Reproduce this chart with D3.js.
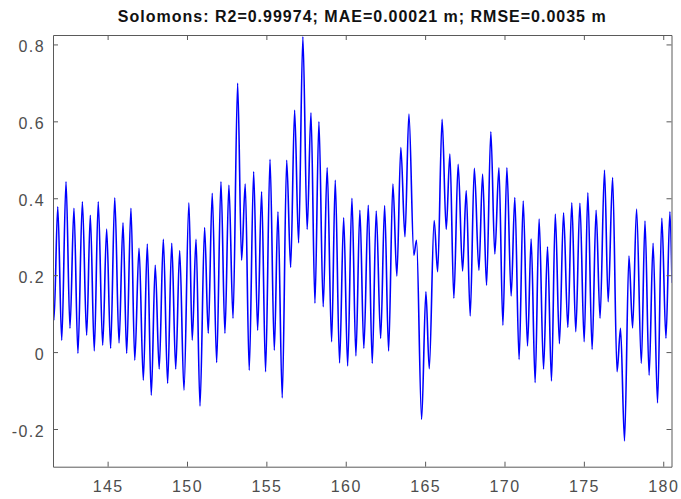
<!DOCTYPE html>
<html>
<head>
<meta charset="utf-8">
<script src="https://cdn.jsdelivr.net/npm/d3@7"></script>
<style>
  body { margin: 0; background: #fff; }
  .axis text { font-family: "Liberation Sans", Arial, sans-serif; font-size: 16px; letter-spacing: 1.4px; fill: #4d4d4d; }
  .axis path, .axis line { stroke: #5a5a5a; }
</style>
</head>
<body>
<div id="chart"></div>
<script>
// peaks and troughs (day of year, water level in m)
var days = [141.50, 141.62, 141.86, 142.11, 142.38, 142.63, 142.88, 143.13, 143.41, 143.68,
  143.91, 144.16, 144.41, 144.69, 144.94, 145.19, 145.45, 145.72, 145.97, 146.20,
  146.47, 146.71, 146.98, 147.25, 147.50, 147.75, 148.00, 148.25, 148.51, 148.78,
  149.04, 149.29, 149.54, 149.81, 150.12, 150.33, 150.57, 150.82, 151.11, 151.34,
  151.59, 151.87, 152.14, 152.39, 152.64, 152.90, 153.19, 153.44, 153.67, 153.92,
  154.20, 154.45, 154.70, 154.95, 155.23, 155.50, 155.73, 156.00, 156.28, 156.53,
  156.78, 157.03, 157.30, 157.57, 157.81, 158.06, 158.31, 158.58, 158.83, 159.11,
  159.34, 159.61, 159.87, 160.12, 160.39, 160.64, 160.89, 161.14, 161.42, 161.67,
  161.92, 162.20, 162.45, 162.70, 162.97, 163.22, 163.47, 163.73, 163.98, 164.29,
  164.46, 164.78, 165.05, 165.26, 165.57, 165.79, 166.07, 166.33, 166.56, 166.81,
  167.08, 167.36, 167.59, 167.84, 168.10, 168.39, 168.62, 168.87, 169.14, 169.39,
  169.65, 169.90, 170.15, 170.42, 170.65, 170.92, 171.18, 171.45, 171.68, 171.93,
  172.18, 172.46, 172.71, 172.96, 173.20, 173.46, 173.72, 173.99, 174.24, 174.49,
  174.75, 175.02, 175.25, 175.52, 175.77, 176.02, 176.30, 176.53, 176.81, 177.09,
  177.31, 177.56, 177.84, 178.07, 178.32, 178.62, 178.85, 179.11, 179.36, 179.64,
  179.91, 180.17, 180.42, 180.55];

var level = [0.26, 0.083, 0.378, 0.031, 0.443, 0.062, 0.374, -0.003, 0.391, 0.044,
  0.356, 0.003, 0.391, 0.018, 0.320, 0.010, 0.401, 0.024, 0.336, -0.003,
  0.374, -0.021, 0.270, -0.073, 0.281, -0.112, 0.226, -0.044, 0.293, -0.081,
  0.283, -0.044, 0.264, -0.099, 0.388, 0.031, 0.293, -0.140, 0.324, 0.049,
  0.413, -0.027, 0.443, 0.049, 0.434, 0.088, 0.699, 0.239, 0.437, -0.047,
  0.469, 0.057, 0.417, -0.051, 0.501, 0.005, 0.365, -0.119, 0.499, 0.220,
  0.629, 0.284, 0.820, 0.319, 0.622, 0.127, 0.599, 0.118, 0.479, 0.027,
  0.447, -0.028, 0.349, -0.036, 0.400, -0.010, 0.369, 0.010, 0.382, -0.029,
  0.367, 0.036, 0.381, 0.003, 0.437, 0.198, 0.532, 0.300, 0.619, 0.252,
  0.291, -0.175, 0.157, -0.043, 0.342, 0.209, 0.605, 0.319, 0.515, 0.140,
  0.488, 0.211, 0.420, 0.094, 0.478, 0.213, 0.463, 0.174, 0.573, 0.255,
  0.479, 0.070, 0.479, 0.146, 0.402, -0.019, 0.393, 0.016, 0.294, -0.079,
  0.346, -0.044, 0.274, -0.075, 0.359, 0.022, 0.362, 0.064, 0.388, 0.053,
  0.387, 0.027, 0.414, 0.007, 0.369, 0.088, 0.473, 0.131, 0.454, -0.051,
  0.062, -0.231, 0.250, 0.063, 0.372, -0.029, 0.341, -0.060, 0.283, -0.132,
  0.348, 0.036, 0.365, 0.18];

var xTicks = [145, 150, 155, 160, 165, 170, 175, 180];
var yTicks = [-0.2, 0, 0.2, 0.4, 0.6, 0.8];
var title = "Solomons: R2=0.99974; MAE=0.00021 m; RMSE=0.0035 m";

var width = 681, height = 499;
var margin = {top: 35, right: 9.5, bottom: 32.3, left: 53};
var w = width - margin.left - margin.right;
var h = height - margin.top - margin.bottom;

var svg = d3.select("#chart").append("svg")
    .attr("width", width)
    .attr("height", height);

var g = svg.append("g")
    .attr("transform", "translate(" + margin.left + "," + margin.top + ")");

var x = d3.scaleLinear().domain([141.56, 180.52]).range([0, w]);
var y = d3.scaleLinear().domain([-0.298, 0.8245]).range([h, 0]);

var points = days.map(function(d, i) { return [d, level[i]]; });

svg.append("defs").append("clipPath")
    .attr("id", "clip")
    .append("rect")
    .attr("width", w)
    .attr("height", h);

var line = d3.line()
    .x(function(d) { return x(d[0]); })
    .y(function(d) { return y(d[1]); })
    .curve(d3.curveMonotoneX);

g.append("path")
    .datum(points)
    .attr("clip-path", "url(#clip)")
    .attr("fill", "none")
    .attr("stroke", "#0000ff")
    .attr("stroke-width", 1.6)
    .attr("d", line);

// box with inward ticks on all four sides
g.append("g")
    .attr("class", "axis")
    .attr("transform", "translate(0," + h + ")")
    .call(d3.axisBottom(x).tickValues(xTicks).tickSize(-5).tickPadding(14).tickSizeOuter(0));

g.append("g")
    .attr("class", "axis")
    .call(d3.axisTop(x).tickValues(xTicks).tickSize(-5).tickSizeOuter(0).tickFormat(""));

var yAxis = g.append("g")
    .attr("class", "axis")
    .call(d3.axisLeft(y).tickValues(yTicks).tickSize(-5).tickPadding(8).tickSizeOuter(0)
      .tickFormat(function(d) { return d === 0 ? "0" : d.toFixed(1); }));
yAxis.selectAll("text").attr("dy", "0.46em");

g.append("g")
    .attr("class", "axis")
    .attr("transform", "translate(" + w + ",0)")
    .call(d3.axisRight(y).tickValues(yTicks).tickSize(-5).tickSizeOuter(0).tickFormat(""));

svg.append("text")
    .attr("x", margin.left + w / 2)
    .attr("y", 22)
    .attr("text-anchor", "middle")
    .attr("font-family", "Liberation Sans, Arial, sans-serif")
    .attr("font-size", 16)
    .attr("font-weight", "bold")
    .attr("letter-spacing", 1)
    .attr("fill", "#111")
    .text(title);
</script>
</body>
</html>
